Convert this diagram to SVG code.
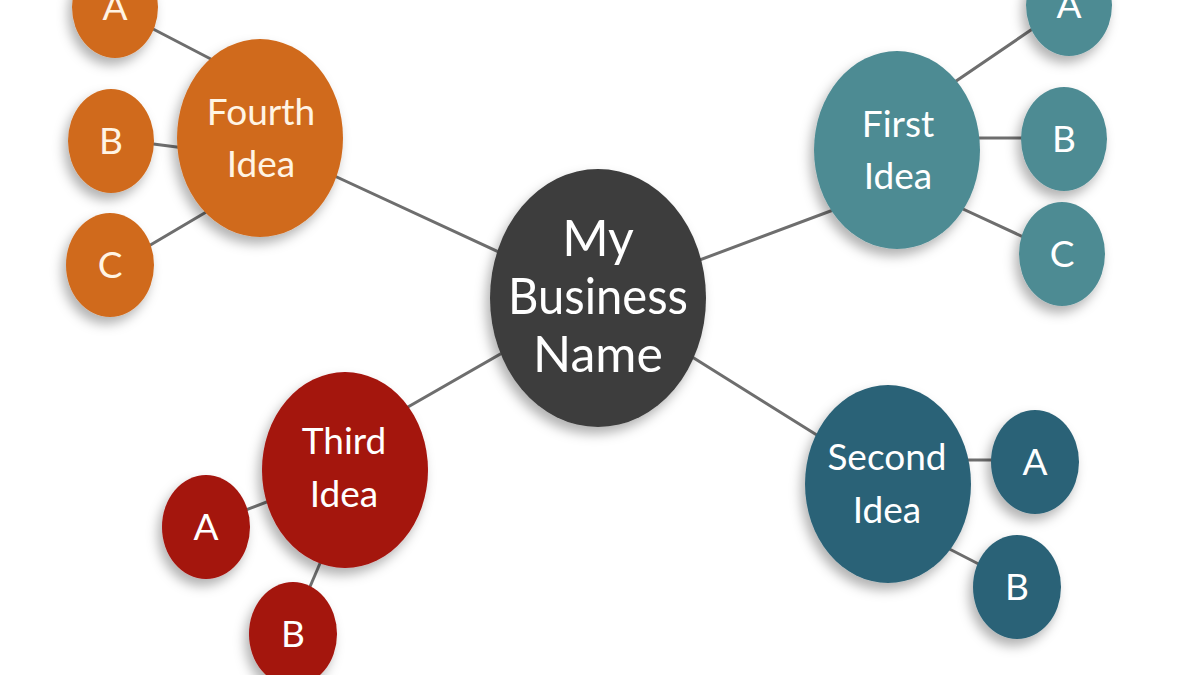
<svg xmlns="http://www.w3.org/2000/svg" width="1200" height="675" viewBox="0 0 1200 675">
<defs>
<filter id="sh" x="-30%" y="-30%" width="160%" height="160%">
<feDropShadow dx="-4" dy="7" stdDeviation="6" flood-color="#000" flood-opacity="0.3"/>
</filter>
<style>
.ln{stroke:#6e6e6e;stroke-width:3;fill:none;stroke-linecap:round}
.t{font-family:Lato,"Open Sans","Liberation Sans",sans-serif;font-weight:400;fill:#fff;text-anchor:middle}
.big{font-size:37px}
.mid{font-size:50px}
.sm{font-size:37px}
.or{fill:#D06A1C}
.tl{fill:#4E8B93}
.bl{fill:#2B6277}
.rd{fill:#A4130D}
.dk{fill:#3D3D3D}
.ot{fill:#FFF4E4}
</style>
</defs>
<rect width="1200" height="675" fill="#fff"/>
<g id="connectors">
<line class="ln" x1="598" y1="298" x2="300" y2="160"/>
<line class="ln" x1="598" y1="298" x2="860" y2="200"/>
<line class="ln" x1="598" y1="298" x2="860" y2="462"/>
<line class="ln" x1="598" y1="298" x2="380" y2="423"/>
<line class="ln" x1="130" y1="17" x2="230" y2="69"/>
<line class="ln" x1="130" y1="141" x2="200" y2="150"/>
<line class="ln" x1="130" y1="257" x2="230" y2="198"/>
<line class="ln" x1="940" y1="92" x2="1050" y2="17"/>
<line class="ln" x1="960" y1="138" x2="1050" y2="138"/>
<line class="ln" x1="950" y1="203" x2="1045" y2="247"/>
<line class="ln" x1="950" y1="460" x2="1020" y2="460"/>
<line class="ln" x1="930" y1="539" x2="1000" y2="575"/>
<line class="ln" x1="290" y1="493" x2="230" y2="516"/>
<line class="ln" x1="330" y1="540" x2="300" y2="610"/>
</g>
<g id="center">
<ellipse class="dk" cx="598" cy="298" rx="108" ry="129" filter="url(#sh)"/>
<text class="t mid" x="598" y="256">My</text>
<text class="t mid" x="598" y="314" textLength="180" lengthAdjust="spacingAndGlyphs">Business</text>
<text class="t mid" x="598" y="372">Name</text>
</g>
<g id="fourth">
<ellipse class="or" cx="260" cy="138" rx="83" ry="99" filter="url(#sh)"/>
<text class="t big ot" x="261" y="125">Fourth</text>
<text class="t big ot" x="261" y="177">Idea</text>
</g>
<g id="fourth-a"><ellipse class="or" cx="115" cy="7" rx="43" ry="51" filter="url(#sh)"/><text class="t sm ot" x="115" y="20">A</text></g>
<g id="fourth-b"><ellipse class="or" cx="111" cy="141" rx="43" ry="52" filter="url(#sh)"/><text class="t sm ot" x="111" y="154">B</text></g>
<g id="fourth-c"><ellipse class="or" cx="110" cy="265" rx="44" ry="52" filter="url(#sh)"/><text class="t sm ot" x="110" y="278">C</text></g>
<g id="first">
<ellipse class="tl" cx="897" cy="150" rx="83" ry="99" filter="url(#sh)"/>
<text class="t big" x="898" y="137">First</text>
<text class="t big" x="898" y="189">Idea</text>
</g>
<g id="first-a"><ellipse class="tl" cx="1069" cy="5" rx="43" ry="51" filter="url(#sh)"/><text class="t sm" x="1069" y="18">A</text></g>
<g id="first-b"><ellipse class="tl" cx="1064" cy="139" rx="43" ry="52" filter="url(#sh)"/><text class="t sm" x="1064" y="152">B</text></g>
<g id="first-c"><ellipse class="tl" cx="1062" cy="254" rx="43" ry="52" filter="url(#sh)"/><text class="t sm" x="1062" y="267">C</text></g>
<g id="second">
<ellipse class="bl" cx="888" cy="484" rx="83" ry="99" filter="url(#sh)"/>
<text class="t big" x="887" y="470">Second</text>
<text class="t big" x="887" y="523">Idea</text>
</g>
<g id="second-a"><ellipse class="bl" cx="1035" cy="462" rx="44" ry="52" filter="url(#sh)"/><text class="t sm" x="1035" y="475">A</text></g>
<g id="second-b"><ellipse class="bl" cx="1017" cy="587" rx="44" ry="52" filter="url(#sh)"/><text class="t sm" x="1017" y="600">B</text></g>
<g id="third">
<ellipse class="rd" cx="345" cy="470" rx="83" ry="98" filter="url(#sh)"/>
<text class="t big" x="344" y="454">Third</text>
<text class="t big" x="344" y="507">Idea</text>
</g>
<g id="third-a"><ellipse class="rd" cx="206" cy="527" rx="44" ry="52" filter="url(#sh)"/><text class="t sm" x="206" y="540">A</text></g>
<g id="third-b"><ellipse class="rd" cx="293" cy="634" rx="44" ry="52" filter="url(#sh)"/><text class="t sm" x="293" y="647">B</text></g>
</svg>
